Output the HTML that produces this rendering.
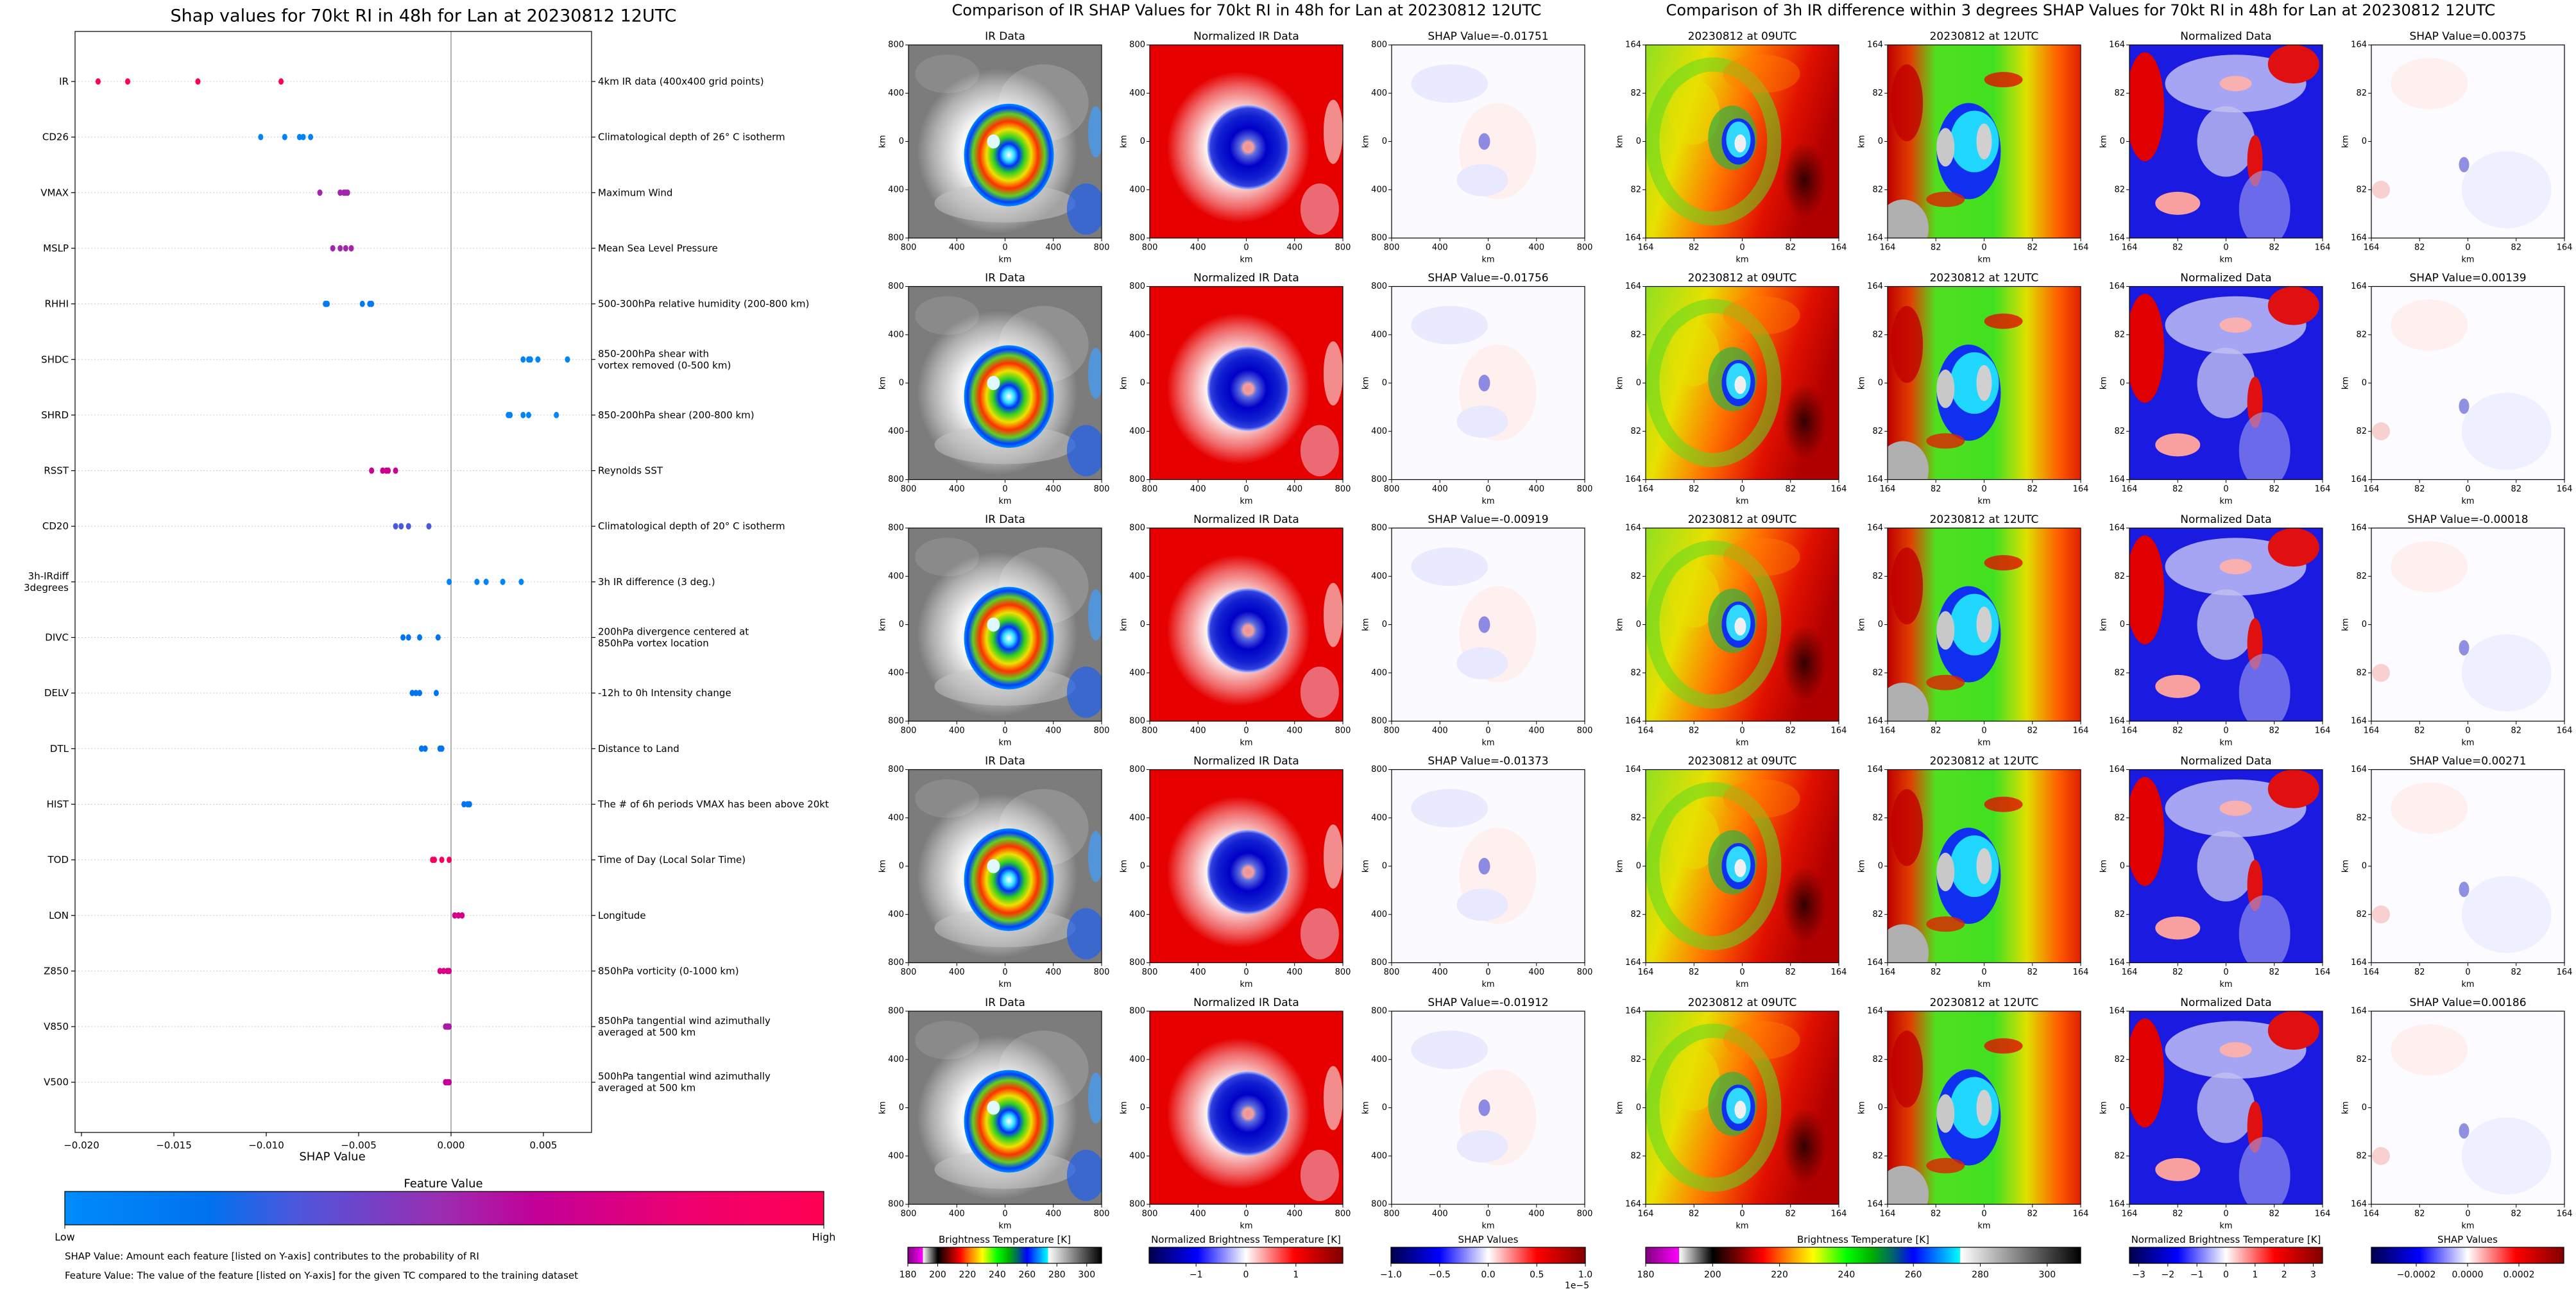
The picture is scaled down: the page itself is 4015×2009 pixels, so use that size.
<!DOCTYPE html>
<html><head><meta charset="utf-8"><title>SHAP RI Lan</title>
<style>
html,body{margin:0;padding:0;background:#fff;}
svg{display:block;font-family:"DejaVu Sans","Liberation Sans",sans-serif;}
</style></head>
<body>
<svg id="fig" width="4015" height="2009" viewBox="0 0 4015 2009" xmlns="http://www.w3.org/2000/svg">
<defs>
<linearGradient id="shapcm" x1="0" x2="1" y1="0" y2="0">
<stop offset="0" stop-color="#008bfb"/><stop offset="0.19" stop-color="#0072ee"/><stop offset="0.3" stop-color="#4a58dc"/><stop offset="0.5" stop-color="#9c2cb0"/><stop offset="0.62" stop-color="#c20098"/><stop offset="0.82" stop-color="#ee0070"/><stop offset="1" stop-color="#ff0052"/>
</linearGradient>
<linearGradient id="btcm" x1="0" x2="1" y1="0" y2="0">
<stop offset="0" stop-color="#800080"/><stop offset="0.077" stop-color="#ff00ff"/><stop offset="0.077" stop-color="#ffffff"/><stop offset="0.154" stop-color="#000000"/><stop offset="0.2" stop-color="#600000"/><stop offset="0.27" stop-color="#ff0000"/><stop offset="0.323" stop-color="#ff8000"/><stop offset="0.385" stop-color="#ffff00"/><stop offset="0.462" stop-color="#00ff00"/><stop offset="0.52" stop-color="#00b000"/><stop offset="0.57" stop-color="#006070"/><stop offset="0.615" stop-color="#0000ff"/><stop offset="0.723" stop-color="#00ffff"/><stop offset="0.723" stop-color="#ffffff"/><stop offset="1" stop-color="#000000"/>
</linearGradient>
<linearGradient id="seis" x1="0" x2="1" y1="0" y2="0">
<stop offset="0" stop-color="#00004c"/><stop offset="0.25" stop-color="#0000ff"/><stop offset="0.5" stop-color="#ffffff"/><stop offset="0.75" stop-color="#ff0000"/><stop offset="1" stop-color="#800000"/>
</linearGradient>
<radialGradient id="halo"><stop offset="0.45" stop-color="#ffffff" stop-opacity="0.95"/><stop offset="0.8" stop-color="#ffffff" stop-opacity="0.4"/><stop offset="1" stop-color="#ffffff" stop-opacity="0"/></radialGradient>
<radialGradient id="dark"><stop offset="0" stop-color="#200000" stop-opacity="0.9"/><stop offset="1" stop-color="#400000" stop-opacity="0"/></radialGradient>
<radialGradient id="core1"><stop offset="0" stop-color="#ffffff"/><stop offset="0.12" stop-color="#30e0ff"/><stop offset="0.22" stop-color="#0030ff"/><stop offset="0.35" stop-color="#30d020"/><stop offset="0.5" stop-color="#f0e000"/><stop offset="0.65" stop-color="#ff3000"/><stop offset="0.8" stop-color="#60d020"/><stop offset="0.92" stop-color="#0040ff"/><stop offset="1" stop-color="#0090ff"/></radialGradient>
<radialGradient id="core2"><stop offset="0" stop-color="#f09090"/><stop offset="0.12" stop-color="#f0a0a0"/><stop offset="0.2" stop-color="#6070e0"/><stop offset="0.45" stop-color="#0000c8"/><stop offset="0.75" stop-color="#1020d0"/><stop offset="0.92" stop-color="#3040e0"/><stop offset="1" stop-color="#c0c8ff"/></radialGradient>
<linearGradient id="r1" x1="0" x2="1" y1="0" y2="0.3"><stop offset="0" stop-color="#90e020"/><stop offset="0.3" stop-color="#e8e000"/><stop offset="0.55" stop-color="#ff7000"/><stop offset="0.8" stop-color="#e01000"/><stop offset="1" stop-color="#b00000"/></linearGradient>
<linearGradient id="r2" x1="0" x2="1" y1="0" y2="0"><stop offset="0" stop-color="#c00000"/><stop offset="0.12" stop-color="#e04000"/><stop offset="0.25" stop-color="#50e020"/><stop offset="0.55" stop-color="#40e020"/><stop offset="0.72" stop-color="#e0e000"/><stop offset="0.88" stop-color="#ff6000"/><stop offset="1" stop-color="#e02000"/></linearGradient>
</defs>
</svg>
<script>
// ---------------- summary plot data ----------------
const features = ['IR','CD26','VMAX','MSLP','RHHI','SHDC','SHRD','RSST','CD20','3h-IRdiff|3degrees','DIVC','DELV','DTL','HIST','TOD','LON','Z850','V850','V500'];
const descriptions = ['4km IR data (400x400 grid points)','Climatological depth of 26° C isotherm','Maximum Wind','Mean Sea Level Pressure','500-300hPa relative humidity (200-800 km)','850-200hPa shear with|vortex removed (0-500 km)','850-200hPa shear (200-800 km)','Reynolds SST','Climatological depth of 20° C isotherm','3h IR difference (3 deg.)','200hPa divergence centered at|850hPa vortex location','-12h to 0h Intensity change','Distance to Land','The # of 6h periods VMAX has been above 20kt','Time of Day (Local Solar Time)','Longitude','850hPa vorticity (0-1000 km)','850hPa tangential wind azimuthally|averaged at 500 km','500hPa tangential wind azimuthally|averaged at 500 km'];
const shapValues = [
 [-0.0191,-0.0175,-0.0137,-0.0092],
 [-0.0103,-0.0090,-0.0082,-0.0080,-0.0076],
 [-0.0071,-0.0060,-0.0058,-0.0057,-0.0056],
 [-0.0064,-0.0060,-0.0057,-0.0054],
 [-0.0068,-0.0067,-0.0048,-0.0044,-0.0043],
 [0.0039,0.0042,0.0043,0.0047,0.0063],
 [0.0031,0.0032,0.0039,0.0042,0.0057],
 [-0.0043,-0.0037,-0.0035,-0.0034,-0.0030],
 [-0.0030,-0.0027,-0.0023,-0.0012],
 [-0.0001,0.0014,0.0019,0.0028,0.0038],
 [-0.0026,-0.0023,-0.0017,-0.0007],
 [-0.0021,-0.0019,-0.0017,-0.0008],
 [-0.0016,-0.0014,-0.0006,-0.0005],
 [0.0007,0.0009,0.0010],
 [-0.0010,-0.0009,-0.0005,-0.0001],
 [0.0002,0.0004,0.0006],
 [-0.0006,-0.0004,-0.0002,-0.0001],
 [-0.0003,-0.0002,-0.0001],
 [-0.0003,-0.0002,-0.0001]
];
const featureLevels = [1.0,0.05,0.52,0.52,0.12,0.05,0.05,0.66,0.3,0.05,0.17,0.17,0.17,0.17,0.95,0.7,0.72,0.55,0.62];
const xTicks = [-0.020,-0.015,-0.010,-0.005,0.000,0.005];
const xTickLabels = ['\u22120.020','\u22120.015','\u22120.010','\u22120.005','0.000','0.005'];
// ---------------- image panel data ----------------
const irShapTitles = ['-0.01751','-0.01756','-0.00919','-0.01373','-0.01912'];
const diffShapTitles = ['0.00375','0.00139','-0.00018','0.00271','0.00186'];
const irAxisLabels = ['800','400','0','400','800'];
const diffAxisLabels = ['164','82','0','82','164'];
const btTicks = [180,200,220,240,260,280,300];
const normTicksMid = [-1,0,1];
const shapTicksMid = [-1.0,-0.5,0.0,0.5,1.0];
const normTicksRight = [-3,-2,-1,0,1,2,3];
const shapTicksRight = [-0.0002,0.0000,0.0002];

const NS = 'http://www.w3.org/2000/svg';
const svg = document.getElementById('fig');
function mk(tag, parent){ const e = document.createElementNS(NS, tag); (parent||svg).appendChild(e); return e; }
function attrs(e, o){ for (const k in o) e.setAttribute(k, o[k]); return e; }
function txt(parent, x, y, s, size, anchor){
  const t = mk('text', parent);
  attrs(t, {x:x, y:y, 'font-size':size, 'text-anchor':anchor||'middle', 'dominant-baseline':'central', fill:'#000'});
  t.textContent = s;
  return t;
}
const cmStops = [[0,[0,139,251]],[0.19,[0,114,238]],[0.3,[74,88,220]],[0.5,[156,44,176]],[0.62,[194,0,152]],[0.82,[238,0,112]],[1,[255,0,82]]];
function cm(v){
  for (let i=1;i<cmStops.length;i++){
    if (v<=cmStops[i][0]){
      const a=cmStops[i-1], b=cmStops[i], t=(v-a[0])/(b[0]-a[0]);
      const c=a[1].map((q,j)=>Math.round(q+(b[1][j]-q)*t));
      return 'rgb('+c.join(',')+')';
    }
  }
  return 'rgb(255,0,82)';
}

// ================= SUMMARY PLOT =================
const AX = {l:117, r:922, t:49, b:1765};
function xScale(v){ return 703 + v*28800; }
function yPos(i){ return 127 + i*86.65; }
const sum = mk('g');  
const st = txt(sum, 660, 25, 'Shap values for 70kt RI in 48h for Lan at 20230812 12UTC', 27);
 

features.forEach((f,i)=>{
  const y = yPos(i);
  const gl = attrs(mk('line', sum), {x1:AX.l, x2:AX.r, y1:y, y2:y, stroke:'#cccccc', 'stroke-width':1, 'stroke-dasharray':'2,3'});
   
  attrs(mk('line', sum), {x1:AX.l-6, x2:AX.l, y1:y, y2:y, stroke:'#000', 'stroke-width':1.2});
  attrs(mk('line', sum), {x1:AX.r, x2:AX.r+6, y1:y, y2:y, stroke:'#000', 'stroke-width':1.2});
  const parts = f.split('|');
  parts.forEach((p,k)=>{
    const t = txt(sum, AX.l-10, y + (parts.length>1 ? (k===0?-9:9) : 0), p, 15, 'end');
     
  });
  const dp = descriptions[i].split('|');
  dp.forEach((p,k)=>{
    const t = txt(sum, AX.r+10, y + (dp.length>1 ? (k===0?-9:9) : 0), p, 15, 'start');
     
  });
});
const zl = attrs(mk('line', sum), {x1:xScale(0), x2:xScale(0), y1:AX.t, y2:AX.b, stroke:'#999', 'stroke-width':1.5});
 
shapValues.forEach((vals,i)=>{
  vals.forEach(v=>{
    const d = attrs(mk('ellipse', sum), {cx:xScale(v), cy:yPos(i), rx:4, ry:5, fill:cm(featureLevels[i])});
     
  });
});
const box = attrs(mk('rect', sum), {x:AX.l, y:AX.t, width:AX.r-AX.l, height:AX.b-AX.t, fill:'none', stroke:'#000', 'stroke-width':1.2});
 
xTicks.forEach((v,k)=>{
  attrs(mk('line', sum), {x1:xScale(v), x2:xScale(v), y1:AX.b, y2:AX.b+6, stroke:'#000', 'stroke-width':1.2});
  const t = txt(sum, xScale(v), AX.b+20, xTickLabels[k], 15);
   
});
const xl = txt(sum, 518, 1803, 'SHAP Value', 18);
 
const fvt = txt(sum, 691, 1845, 'Feature Value', 18);
 
const cb = attrs(mk('rect', sum), {x:101, y:1857, width:1183, height:52, fill:'url(#shapcm)', stroke:'#000', 'stroke-width':1.2});
 
attrs(mk('line', sum), {x1:101,x2:101,y1:1909,y2:1915,stroke:'#000'});
attrs(mk('line', sum), {x1:1284,x2:1284,y1:1909,y2:1915,stroke:'#000'});
const lo = txt(sum, 101, 1928, 'Low', 16);  
const hi = txt(sum, 1284, 1928, 'High', 16);  
const n1 = txt(sum, 101, 1958, 'SHAP Value: Amount each feature [listed on Y-axis] contributes to the probability of RI', 15, 'start');
 
const n2 = txt(sum, 101, 1988, 'Feature Value: The value of the feature [listed on Y-axis] for the given TC compared to the training dataset', 15, 'start');
 

// ================= IMAGE PANELS =================
let clipId = 0;
function e(g, tag, o){ return attrs(mk(tag, g), o); }
function drawIR(g,x,y,w,h){
  e(g,'rect',{x:x,y:y,width:w,height:h,fill:'#7c7c7c'});
  e(g,'ellipse',{cx:x+0.7*w,cy:y+0.3*h,rx:70,ry:60,fill:'#a0a0a0',opacity:0.6});
  e(g,'ellipse',{cx:x+0.2*w,cy:y+0.15*h,rx:50,ry:30,fill:'#959595',opacity:0.6});
  e(g,'ellipse',{cx:x+0.46*w,cy:y+0.55*h,rx:125,ry:128,fill:'url(#halo)'});
  e(g,'ellipse',{cx:x+0.5*w,cy:y+0.82*h,rx:110,ry:30,fill:'#c8c8c8',opacity:0.5});
  e(g,'ellipse',{cx:x+0.92*w,cy:y+0.85*h,rx:30,ry:40,fill:'#2060f0',opacity:0.7});
  e(g,'ellipse',{cx:x+0.97*w,cy:y+0.45*h,rx:12,ry:40,fill:'#40a0ff',opacity:0.7});
  e(g,'ellipse',{cx:x+0.52*w,cy:y+0.57*h,rx:70,ry:80,fill:'url(#core1)'});
  e(g,'ellipse',{cx:x+0.44*w,cy:y+0.5*h,rx:10,ry:11,fill:'#e0f8ff'});
}
function drawNorm(g,x,y,w,h){
  e(g,'rect',{x:x,y:y,width:w,height:h,fill:'#e60000'});
  e(g,'ellipse',{cx:x+0.46*w,cy:y+0.53*h,rx:112,ry:118,fill:'url(#halo)'});
  e(g,'ellipse',{cx:x+0.95*w,cy:y+0.45*h,rx:15,ry:50,fill:'#f8c8c8',opacity:0.7});
  e(g,'ellipse',{cx:x+0.88*w,cy:y+0.85*h,rx:30,ry:40,fill:'#f0b0c0',opacity:0.6});
  e(g,'ellipse',{cx:x+0.51*w,cy:y+0.53*h,rx:64,ry:66,fill:'url(#core2)'});
}
function drawShapIR(g,x,y,w,h){
  e(g,'rect',{x:x,y:y,width:w,height:h,fill:'#fbfbff'});
  e(g,'ellipse',{cx:x+0.3*w,cy:y+0.2*h,rx:60,ry:30,fill:'#eaeaff'});
  e(g,'ellipse',{cx:x+0.55*w,cy:y+0.55*h,rx:60,ry:75,fill:'#fff0f0'});
  e(g,'ellipse',{cx:x+0.47*w,cy:y+0.7*h,rx:40,ry:25,fill:'#e8e8ff'});
  e(g,'ellipse',{cx:x+0.48*w,cy:y+0.5*h,rx:9,ry:13,fill:'#7070e0',opacity:0.8});
}
function drawD1(g,x,y,w,h){
  e(g,'rect',{x:x,y:y,width:w,height:h,fill:'url(#r1)'});
  e(g,'ellipse',{cx:x+0.35*w,cy:y+0.5*h,rx:95,ry:120,fill:'none',stroke:'#60d820','stroke-width':22,opacity:0.55});
  e(g,'ellipse',{cx:x+0.25*w,cy:y+0.35*h,rx:40,ry:50,fill:'#e8e000',opacity:0.5});
  e(g,'ellipse',{cx:x+0.6*w,cy:y+0.15*h,rx:60,ry:30,fill:'#ff8000',opacity:0.4});
  e(g,'ellipse',{cx:x+0.82*w,cy:y+0.7*h,rx:35,ry:60,fill:'url(#dark)'});
  e(g,'ellipse',{cx:x+0.45*w,cy:y+0.48*h,rx:38,ry:50,fill:'#30b040',opacity:0.7});
  e(g,'ellipse',{cx:x+0.48*w,cy:y+0.5*h,rx:26,ry:36,fill:'#1030f0'});
  e(g,'ellipse',{cx:x+0.48*w,cy:y+0.49*h,rx:19,ry:28,fill:'#30d8ff'});
  e(g,'ellipse',{cx:x+0.49*w,cy:y+0.51*h,rx:9,ry:14,fill:'#f0f0f0'});
}
function drawD2(g,x,y,w,h){
  e(g,'rect',{x:x,y:y,width:w,height:h,fill:'url(#r2)'});
  e(g,'ellipse',{cx:x+0.1*w,cy:y+0.3*h,rx:25,ry:60,fill:'#c00000',opacity:0.8});
  e(g,'ellipse',{cx:x+0.6*w,cy:y+0.18*h,rx:30,ry:12,fill:'#e01000',opacity:0.8});
  e(g,'ellipse',{cx:x+0.42*w,cy:y+0.55*h,rx:50,ry:75,fill:'#1030f0'});
  e(g,'ellipse',{cx:x+0.45*w,cy:y+0.5*h,rx:38,ry:48,fill:'#20d8ff'});
  e(g,'ellipse',{cx:x+0.3*w,cy:y+0.53*h,rx:14,ry:30,fill:'#c8c8c8'});
  e(g,'ellipse',{cx:x+0.5*w,cy:y+0.5*h,rx:12,ry:28,fill:'#d0d0d0'});
  e(g,'ellipse',{cx:x+0.08*w,cy:y+0.95*h,rx:40,ry:45,fill:'#b0b0b0'});
  e(g,'ellipse',{cx:x+0.3*w,cy:y+0.8*h,rx:30,ry:12,fill:'#e02000',opacity:0.8});
}
function drawD3(g,x,y,w,h){
  e(g,'rect',{x:x,y:y,width:w,height:h,fill:'#1a1ae0'});
  e(g,'ellipse',{cx:x+0.55*w,cy:y+0.2*h,rx:110,ry:45,fill:'#c8c8f8',opacity:0.8});
  e(g,'ellipse',{cx:x+0.85*w,cy:y+0.1*h,rx:40,ry:30,fill:'#e01010'});
  e(g,'ellipse',{cx:x+0.08*w,cy:y+0.32*h,rx:30,ry:85,fill:'#e00000'});
  e(g,'ellipse',{cx:x+0.5*w,cy:y+0.5*h,rx:45,ry:55,fill:'#c0c0f0',opacity:0.8});
  e(g,'ellipse',{cx:x+0.65*w,cy:y+0.6*h,rx:12,ry:40,fill:'#e01010'});
  e(g,'ellipse',{cx:x+0.55*w,cy:y+0.2*h,rx:25,ry:12,fill:'#f8b0b0'});
  e(g,'ellipse',{cx:x+0.25*w,cy:y+0.82*h,rx:35,ry:18,fill:'#f8a0a0'});
  e(g,'ellipse',{cx:x+0.7*w,cy:y+0.85*h,rx:40,ry:60,fill:'#a0a0f0',opacity:0.6});
}
function drawD4(g,x,y,w,h){
  e(g,'rect',{x:x,y:y,width:w,height:h,fill:'#fcfbff'});
  e(g,'ellipse',{cx:x+0.3*w,cy:y+0.2*h,rx:60,ry:40,fill:'#fff0f0'});
  e(g,'ellipse',{cx:x+0.7*w,cy:y+0.75*h,rx:70,ry:60,fill:'#eef0ff'});
  e(g,'ellipse',{cx:x+0.05*w,cy:y+0.75*h,rx:14,ry:14,fill:'#f8d0d0'});
  e(g,'ellipse',{cx:x+0.48*w,cy:y+0.62*h,rx:8,ry:12,fill:'#9090e0'});
}
function panel(x,y,w,h,title,labels,drawFn,name){
  const g = mk('g');  
  const cid = 'c'+(clipId++);
  const cp = attrs(mk('clipPath', g), {id:cid});
  attrs(mk('rect', cp), {x:x,y:y,width:w,height:h});
  const ig = attrs(mk('g', g), {'clip-path':'url(#'+cid+')'});
   
  drawFn(ig,x,y,w,h);
  attrs(mk('rect', g), {x:x,y:y,width:w,height:h,fill:'none',stroke:'#000','stroke-width':1.2});
  const tt = txt(g, x+w/2, y-13, title, 17);
   
  labels.forEach((l,k)=>{
    const px = x + k*w/4, py = y + k*h/4;
    attrs(mk('line', g), {x1:px,x2:px,y1:y+h,y2:y+h+5,stroke:'#000'});
    attrs(mk('line', g), {x1:x-5,x2:x,y1:py,y2:py,stroke:'#000'});
    txt(g, px, y+h+15, l, 13);
    txt(g, x-7, py, l, 13, 'end');
  });
  txt(g, x+w/2, y+h+34, 'km', 13);
  const yl = txt(g, x-40, y+h/2, 'km', 13);
  yl.setAttribute('transform','rotate(-90 '+(x-40)+' '+(y+h/2)+')');
}
const midCols = [1416,1792,2169], rightCols = [2565,2942,3319,3696];
const PW = 301, PH = 301;
const mt = txt(svg, 1943, 16, 'Comparison of IR SHAP Values for 70kt RI in 48h for Lan at 20230812 12UTC', 24);
 
const rt = txt(svg, 3243, 16, 'Comparison of 3h IR difference within 3 degrees SHAP Values for 70kt RI in 48h for Lan at 20230812 12UTC', 24);
 
for (let r=0;r<5;r++){
  const y = 70 + r*376.5;
  panel(midCols[0],y,PW,PH,'IR Data',irAxisLabels,drawIR,'ir-data-panel-'+(r+1));
  panel(midCols[1],y,PW,PH,'Normalized IR Data',irAxisLabels,drawNorm,'normalized-ir-panel-'+(r+1));
  panel(midCols[2],y,PW,PH,'SHAP Value='+irShapTitles[r],irAxisLabels,drawShapIR,'ir-shap-panel-'+(r+1));
  panel(rightCols[0],y,PW,PH,'20230812 at 09UTC',diffAxisLabels,drawD1,'ir-09utc-panel-'+(r+1));
  panel(rightCols[1],y,PW,PH,'20230812 at 12UTC',diffAxisLabels,drawD2,'ir-12utc-panel-'+(r+1));
  panel(rightCols[2],y,PW,PH,'Normalized Data',diffAxisLabels,drawD3,'normalized-diff-panel-'+(r+1));
  panel(rightCols[3],y,PW,PH,'SHAP Value='+diffShapTitles[r],diffAxisLabels,drawD4,'diff-shap-panel-'+(r+1));
}
function colorbar(x,w,title,fill,ticks,vmin,vmax,fmt,name){
  const g = mk('g');  
  const ct = txt(g, x+w/2, 1932, title, 15);
   
  attrs(mk('rect', g), {x:x,y:1944,width:w,height:25,fill:fill,stroke:'#000','stroke-width':1.2});
  ticks.forEach(v=>{
    const px = x + (v-vmin)/(vmax-vmin)*w;
    attrs(mk('line', g), {x1:px,x2:px,y1:1969,y2:1974,stroke:'#000'});
    txt(g, px, 1987, fmt(v), 14);
  });
}
const fmtMinus = s => s.replace('-', '\u2212');
colorbar(1415,302,'Brightness Temperature [K]','url(#btcm)',btTicks,180,310,v=>String(v),'bt-colorbar-ir');
colorbar(1791,302,'Normalized Brightness Temperature [K]','url(#seis)',normTicksMid,-1.94,1.94,v=>fmtMinus(String(v)),'norm-colorbar-ir');
colorbar(2168,303,'SHAP Values','url(#seis)',shapTicksMid,-1,1,v=>fmtMinus(v.toFixed(1)),'shap-colorbar-ir');
const ex = txt(svg, 2458, 2004, '1e\u22125', 14);
 
colorbar(2565,678,'Brightness Temperature [K]','url(#btcm)',btTicks,180,310,v=>String(v),'bt-colorbar-diff');
colorbar(3319,301,'Normalized Brightness Temperature [K]','url(#seis)',normTicksRight,-3.32,3.32,v=>fmtMinus(String(v)),'norm-colorbar-diff');
colorbar(3696,300,'SHAP Values','url(#seis)',shapTicksRight,-0.000375,0.000375,v=>fmtMinus(v.toFixed(4)),'shap-colorbar-diff');
</script>
</body></html>
